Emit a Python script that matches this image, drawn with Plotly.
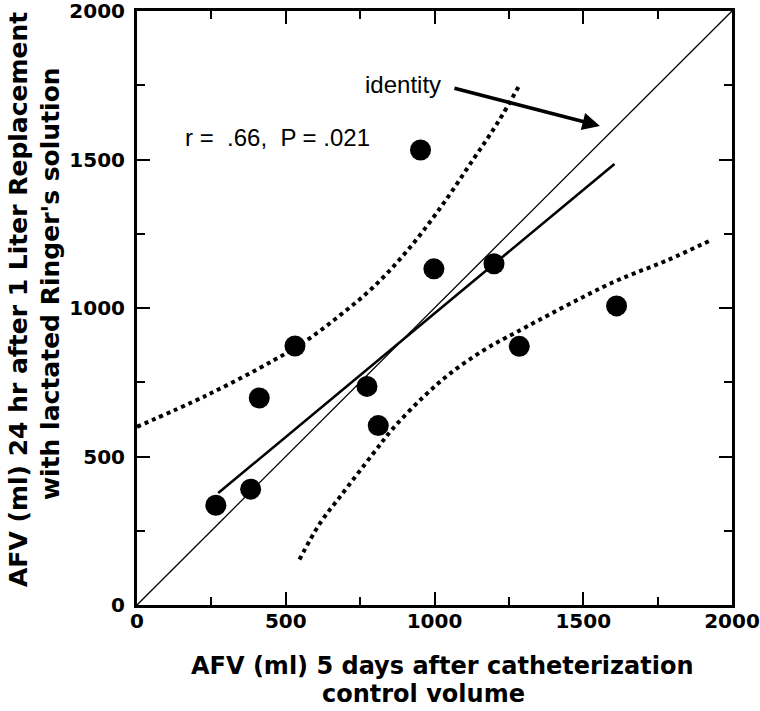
import plotly.graph_objects as go

# observed points
x_pts = [265, 382, 411, 531, 773, 811, 953, 998, 1200, 1285, 1612]
y_pts = [336, 390, 697, 872, 736, 604, 1532, 1132, 1149, 871, 1007]

# regression line endpoints
reg_x = [273, 1605]
reg_y = [377, 1485]

# identity line
id_x = [0, 2000]
id_y = [0, 2000]

# upper confidence curve
up_x = [0, 234, 458, 570, 682, 794, 906, 1018, 1130, 1213, 1287]
up_y = [600, 706, 823, 891, 975, 1070, 1190, 1335, 1500, 1625, 1753]

# lower confidence curve
lo_x = [546, 615, 682, 794, 861, 962, 1052, 1164, 1276, 1601, 1781, 1926]
lo_y = [153, 275, 364, 510, 595, 700, 779, 857, 919, 1087, 1160, 1227]

tick_vals = [0, 500, 1000, 1500, 2000]
tick_text = ["0", "500", "1000", "1500", "2000"]

x_title = ["AFV (ml) 5 days after catheterization", "control volume"]
y_title = ["AFV (ml) 24 hr after 1 Liter Replacement", "with lactated Ringer's solution"]

FONT = "Liberation Sans, Arial, Helvetica, sans-serif"
BOLD = "DejaVu Sans, Verdana, sans-serif"

L, R, T, B = 137, 28, 11, 106
W, H = 760, 711
PW, PH = W - L - R, H - T - B


def px_x(p):
    return (p - L) / PW


def px_y(p):
    return (H - B - p) / PH


fig = go.Figure()
fig.add_trace(go.Scatter(x=id_x, y=id_y, mode="lines",
                         line=dict(color="black", width=1.3), hoverinfo="skip"))
fig.add_trace(go.Scatter(x=up_x, y=up_y, mode="lines", line_shape="spline",
                         line=dict(color="black", width=4, dash="dot"), hoverinfo="skip"))
fig.add_trace(go.Scatter(x=lo_x, y=lo_y, mode="lines", line_shape="spline",
                         line=dict(color="black", width=4, dash="dot"), hoverinfo="skip"))
fig.add_trace(go.Scatter(x=reg_x, y=reg_y, mode="lines",
                         line=dict(color="black", width=2.6), hoverinfo="skip"))
fig.add_trace(go.Scatter(x=x_pts, y=y_pts, mode="markers",
                         marker=dict(color="black", size=21)))

axis_common = dict(
    range=[0, 2000], tickvals=tick_vals, ticktext=tick_text,
    ticks="inside", ticklen=13, tickwidth=2, tickcolor="black",
    minor=dict(dtick=250, ticks="inside", ticklen=8, tickwidth=2, tickcolor="black"),
    showline=True, linewidth=3, linecolor="black", mirror="ticks",
    showgrid=False, zeroline=False, automargin=False,
    ticklabeloverflow="allow",
    tickfont=dict(family=BOLD, size=20, color="black", weight="bold"),
)

ann = [
    dict(x=155, y=1575, xref="x", yref="y", xanchor="left", yanchor="middle",
         text="r =\u00a0\u00a0.66,\u00a0\u00a0P = .021", showarrow=False,
         font=dict(family=FONT, size=24, color="black")),
    dict(x=1029, y=1752, xref="x", yref="y", xanchor="right", yanchor="middle",
         text="identity", showarrow=False,
         font=dict(family=FONT, size=24, color="black")),
    dict(x=1556, y=1613, ax=1062, ay=1741, xref="x", yref="y", axref="x", ayref="y",
         text="", showarrow=True, arrowhead=2, arrowsize=1, arrowwidth=3.5,
         arrowcolor="black"),
    # x-axis title lines
    dict(x=px_x(443), y=px_y(666), xref="paper", yref="paper", xanchor="center", yanchor="middle",
         text=x_title[0], showarrow=False,
         font=dict(family=BOLD, size=24, color="black", weight="bold")),
    dict(x=px_x(423), y=px_y(694), xref="paper", yref="paper", xanchor="center", yanchor="middle",
         text=x_title[1], showarrow=False,
         font=dict(family=BOLD, size=24, color="black", weight="bold")),
    # y-axis title lines
    dict(x=px_x(19), y=px_y(300), xref="paper", yref="paper", xanchor="center", yanchor="middle",
         text=y_title[0], textangle=-90, showarrow=False,
         font=dict(family=BOLD, size=25, color="black", weight="bold")),
    dict(x=px_x(50), y=px_y(284), xref="paper", yref="paper", xanchor="center", yanchor="middle",
         text=y_title[1], textangle=-90, showarrow=False,
         font=dict(family=BOLD, size=25, color="black", weight="bold")),
]

fig.update_layout(
    width=W, height=H,
    margin=dict(l=L, r=R, t=T, b=B),
    paper_bgcolor="white", plot_bgcolor="white",
    showlegend=False,
    xaxis=dict(**axis_common, ticklabelstandoff=-4),
    yaxis=dict(**axis_common, ticklabelstandoff=5),
    annotations=ann,
)

fig.write_html("out.html",
               config={"displayModeBar": False},
               post_script="document.body.style.margin='0';document.body.style.overflow='hidden';")
